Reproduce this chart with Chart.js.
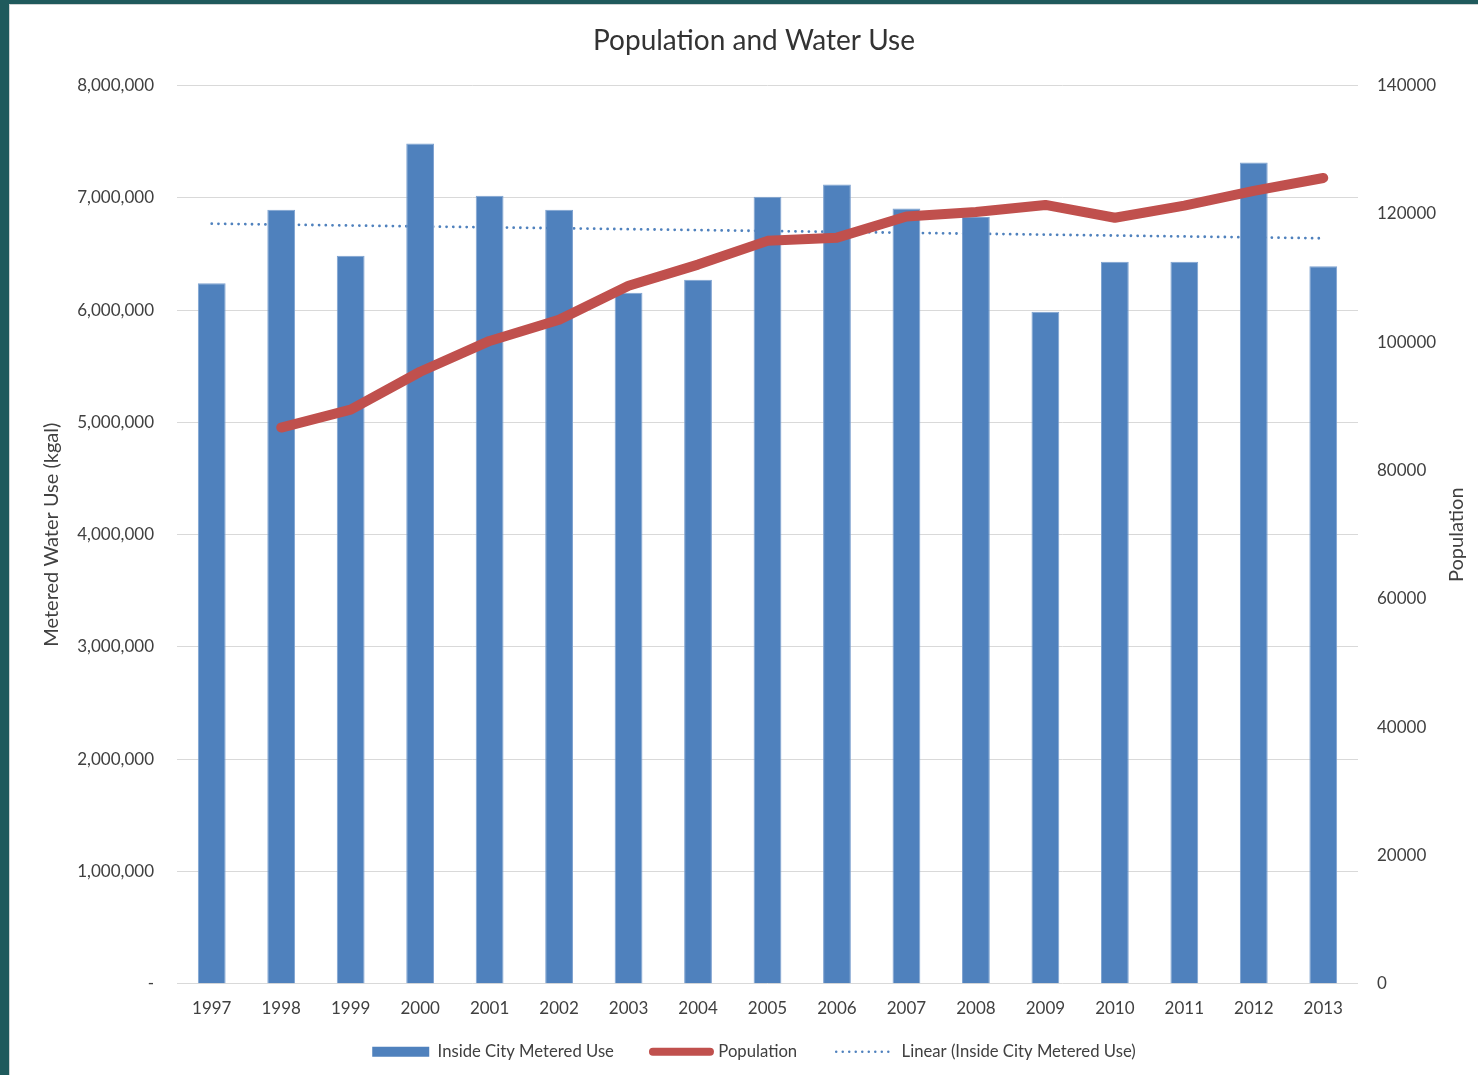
<!DOCTYPE html>
<html>
<head>
<meta charset="utf-8">
<title>Population and Water Use</title>
<script src="https://cdn.jsdelivr.net/npm/chart.js@4.4.1/dist/chart.umd.min.js"></script>
<style>
  html, body { margin: 0; padding: 0; }
  body { width: 1478px; height: 1075px; background: #1f5a5c; overflow: hidden; position: relative; }
  .panel { position: absolute; left: 9px; top: 4px; width: 1468px; height: 1070px; background: #fff;
           border-left: 1px solid #cfd3d3; border-top: 1px solid #cfd3d3; }
  .panel canvas { display: block; }
</style>
</head>
<body>
<div class="panel"><canvas id="chart" width="1468" height="1070"></canvas></div>
<script>
/* Population and Water Use — metered use bars, population line, linear trend */
var YEARS = ['1997', '1998', '1999', '2000', '2001', '2002', '2003', '2004', '2005',
             '2006', '2007', '2008', '2009', '2010', '2011', '2012', '2013'];

// kgal
var METERED_USE = [6240000, 6895000, 6485000, 7485000, 7020000, 6895000, 6155000, 6270000, 7010000,
                   7120000, 6905000, 6830000, 5985000, 6430000, 6430000, 7315000, 6390000];

// right axis, no value for 1997
var POPULATION = [null, 86700, 89500, 95400, 100200, 103500, 108800, 112100, 115800,
                  116300, 119600, 120300, 121400, 119400, 121300, 123600, 125600];

// linear trend of metered use: only the two end points are given, the line spans between them
var TREND = [6770000, null, null, null, null, null, null, null, null,
             null, null, null, null, null, null, null, 6640000];

var LEFT_MAX = 8000000, LEFT_STEP = 1000000;
var RIGHT_MAX = 140000, RIGHT_STEP = 20000;

(function () {
  'use strict';

  var FONT = 'Lato, "Open Sans", sans-serif';
  var TEXT = '#404040';
  var BLUE = '#4f81bd';
  var RED = '#c0504d';

  // Excel puts the right axis title bottom-to-top, Chart.js would turn it the other way
  var rightTitle = {
    id: 'rightTitle',
    afterDraw: function (chart) {
      var ctx = chart.ctx, a = chart.chartArea;
      ctx.save();
      ctx.translate(chart.width - 21, (a.top + a.bottom) / 2);
      ctx.rotate(-Math.PI / 2);
      ctx.font = '20px ' + FONT;
      ctx.fillStyle = TEXT;
      ctx.textAlign = 'center';
      ctx.textBaseline = 'middle';
      ctx.fillText('Population', 0, 0);
      ctx.restore();
    }
  };

  new Chart(document.getElementById('chart').getContext('2d'), {
    type: 'bar',
    data: {
      labels: YEARS,
      datasets: [
        {
          type: 'bar',
          label: 'Inside City Metered Use',
          data: METERED_USE,
          yAxisID: 'y',
          backgroundColor: BLUE,
          borderColor: '#7ea2d0',
          borderWidth: 1,
          barPercentage: 0.4,
          categoryPercentage: 1.0,
          order: 2
        },
        {
          type: 'line',
          label: 'Population',
          data: POPULATION,
          yAxisID: 'y1',
          borderColor: RED,
          backgroundColor: RED,
          borderWidth: 10,
          borderCapStyle: 'round',
          borderJoinStyle: 'round',
          pointRadius: 0,
          tension: 0,
          order: 1
        },
        {
          type: 'line',
          label: 'Linear (Inside City Metered Use)',
          data: TREND,
          yAxisID: 'y',
          borderColor: BLUE,
          backgroundColor: BLUE,
          borderWidth: 2.8,
          borderDash: [0.01, 6.7],
          borderCapStyle: 'round',
          pointRadius: 0,
          spanGaps: true,
          order: 3
        }
      ]
    },
    options: {
      responsive: false,
      animation: false,
      layout: { padding: { top: 0, left: 20, right: 0, bottom: 5 } },
      plugins: {
        title: {
          display: true, text: 'Population and Water Use', color: '#333',
          font: { family: FONT, size: 28, weight: 'normal' },
          padding: { top: 19, bottom: 28 }
        },
        legend: {
          position: 'bottom',
          labels: {
            usePointStyle: true, pointStyleWidth: 57, boxHeight: 10, padding: 14,
            color: TEXT, font: { family: FONT, size: 16.7 },
            generateLabels: function (chart) {
              // legend keys drawn like Excel's: solid box, thick round line, dotted line
              var ds = chart.data.datasets;
              return [
                { text: ds[0].label + '\u2003\u2003', datasetIndex: 0, fontColor: TEXT,
                  fillStyle: BLUE, strokeStyle: BLUE, lineWidth: 0, pointStyle: 'rect' },
                { text: ds[1].label + '\u2003\u2003', datasetIndex: 1, fontColor: TEXT,
                  fillStyle: RED, strokeStyle: RED, lineWidth: 8, lineCap: 'round', pointStyle: 'line' },
                { text: ds[2].label, datasetIndex: 2, fontColor: TEXT,
                  fillStyle: BLUE, strokeStyle: BLUE, lineWidth: 2.5, lineCap: 'round',
                  lineDash: [0.01, 6.5], pointStyle: 'line' }
              ];
            }
          }
        },
        tooltip: { enabled: false }
      },
      scales: {
        x: {
          grid: { display: false, drawTicks: false },
          border: { display: false },
          ticks: { padding: 15, color: TEXT, font: { family: FONT, size: 17 } },
          afterFit: function (s) { s.height = 45.5; }
        },
        y: {
          position: 'left', min: 0, max: LEFT_MAX,
          grid: { color: '#d9d9d9', lineWidth: 1, drawTicks: false },
          border: { display: false },
          ticks: {
            stepSize: LEFT_STEP, padding: 23, color: TEXT, font: { family: FONT, size: 17 },
            callback: function (v) { return v === 0 ? '-' : v.toLocaleString('en-US'); }
          },
          title: {
            display: true, text: 'Metered Water Use (kgal)', color: TEXT,
            font: { family: FONT, size: 20 }, padding: { top: 10, bottom: 0 }
          },
          afterFit: function (s) { s.width = 147; }
        },
        y1: {
          position: 'right', min: 0, max: RIGHT_MAX,
          grid: { display: false, drawTicks: false },
          border: { display: false },
          ticks: {
            stepSize: RIGHT_STEP, padding: 19, color: TEXT, font: { family: FONT, size: 17 },
            callback: function (v) { return String(v); }
          },
          afterFit: function (s) { s.width = 120; }
        }
      }
    },
    plugins: [rightTitle]
  });
})();
</script>
</body>
</html>
